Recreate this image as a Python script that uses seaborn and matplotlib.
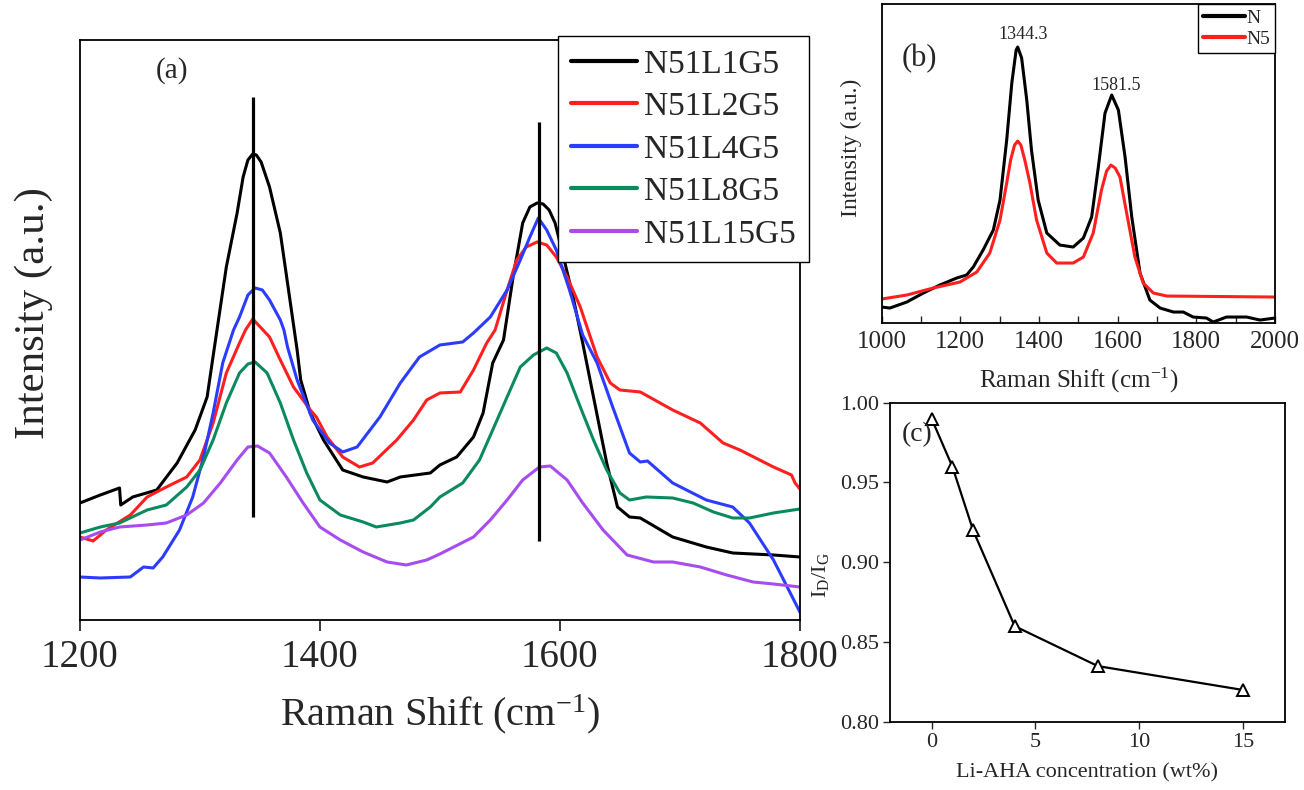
import numpy as np
import pandas as pd
import matplotlib
matplotlib.use("Agg")
import matplotlib.pyplot as plt
import seaborn as sns

sns.set_style("ticks")
plt.rcParams['font.family'] = ['Liberation Serif', 'DejaVu Serif']
plt.rcParams['mathtext.fontset'] = 'custom'
plt.rcParams['mathtext.rm'] = 'Liberation Serif'
plt.rcParams['mathtext.it'] = 'Liberation Serif:italic'

# ---- panel (a): Raman spectra (arbitrary intensity units) ----
labels_a = ["N51L1G5", "N51L2G5", "N51L4G5", "N51L8G5", "N51L15G5"]
colors_a = ["#000000", "#ff1f1f", "#2b3cff", "#0b8a5e", "#a64cf0"]

x_l1 = [1200, 1217, 1233, 1234, 1244, 1264, 1281, 1296, 1306, 1312, 1322, 1331, 1336, 1340, 1344,
        1347, 1351, 1358, 1367, 1373, 1381, 1384, 1392, 1403, 1419, 1436, 1456, 1467, 1492, 1500,
        1514, 1528, 1536, 1544, 1553, 1561, 1569, 1575, 1581, 1586, 1591, 1596, 1603, 1611, 1619,
        1628, 1639, 1648, 1658, 1667, 1694, 1722, 1744, 1778, 1800]
y_l1 = [117, 125, 132, 115, 123, 130, 157, 190, 223, 272, 353, 407, 443, 460, 466,
        465, 458, 433, 387, 337, 270, 240, 207, 180, 150, 143, 138, 143, 147, 155,
        163, 183, 207, 257, 280, 343, 397, 413, 417, 416, 410, 397, 363, 323, 277,
        223, 157, 113, 103, 102, 83, 73, 67, 65, 63]

x_l2 = [1200, 1211, 1222, 1242, 1256, 1272, 1289, 1300, 1311, 1322, 1333, 1338, 1344, 1351, 1358,
        1367, 1378, 1392, 1397, 1406, 1419, 1433, 1444, 1464, 1478, 1489, 1500, 1517, 1528, 1539,
        1546, 1556, 1564, 1572, 1581, 1589, 1597, 1606, 1617, 1622, 1631, 1642, 1650, 1667, 1694,
        1717, 1736, 1750, 1778, 1793, 1796, 1800]
y_l2 = [83, 79, 90, 105, 123, 133, 143, 160, 197, 247, 277, 290, 301, 292, 283,
        260, 233, 210, 203, 183, 163, 153, 157, 180, 200, 220, 227, 228, 250, 277,
        290, 330, 360, 373, 378, 375, 363, 343, 313, 295, 263, 237, 230, 228, 210,
        197, 177, 170, 153, 145, 137, 131]

x_l4 = [1200, 1217, 1242, 1253, 1261, 1269, 1283, 1294, 1303, 1311, 1319, 1328, 1333, 1340, 1346,
        1352, 1358, 1367, 1370, 1373, 1381, 1394, 1408, 1419, 1431, 1450, 1467, 1483, 1500, 1519,
        1528, 1542, 1556, 1567, 1575, 1582, 1589, 1597, 1608, 1619, 1631, 1644, 1658, 1667, 1673,
        1694, 1722, 1744, 1758, 1778, 1792, 1800]
y_l4 = [43, 42, 43, 53, 52, 63, 90, 123, 163, 207, 257, 290, 303, 325, 332,
        330, 320, 300, 290, 273, 240, 200, 177, 168, 173, 203, 237, 263, 275, 278,
        287, 303, 330, 360, 383, 402, 390, 370, 330, 285, 257, 213, 167, 158, 159,
        137, 120, 113, 97, 60, 27, 8]

x_l8 = [1200, 1217, 1233, 1256, 1272, 1289, 1300, 1311, 1322, 1333, 1340, 1346, 1356, 1367, 1378,
        1389, 1400, 1417, 1436, 1447, 1467, 1478, 1492, 1500, 1519, 1533, 1544, 1556, 1567, 1578,
        1589, 1597, 1606, 1617, 1628, 1639, 1650, 1658, 1672, 1694, 1711, 1728, 1744, 1758, 1778,
        1800]
y_l8 = [87, 93, 97, 110, 115, 133, 150, 180, 217, 247, 256, 258, 247, 217, 180,
        147, 120, 105, 98, 93, 97, 100, 113, 123, 137, 160, 190, 223, 253, 265,
        272, 267, 247, 213, 180, 150, 127, 120, 123, 122, 117, 108, 102, 102, 107,
        111]

x_l15 = [1200, 1217, 1233, 1256, 1272, 1289, 1303, 1317, 1331, 1340, 1348, 1358, 1372, 1386, 1400,
         1417, 1436, 1456, 1472, 1489, 1500, 1528, 1542, 1556, 1569, 1583, 1592, 1606, 1619, 1636,
         1656, 1678, 1694, 1717, 1739, 1761, 1778, 1800]
y_l15 = [80, 88, 93, 95, 97, 105, 117, 137, 160, 173, 174, 167, 143, 117, 93,
         80, 68, 58, 55, 60, 66, 83, 100, 120, 140, 153, 154, 140, 117, 90,
         65, 58, 58, 53, 45, 38, 36, 33]

peak_marks = [1344, 1583]
peak_lo = [103, 79]
peak_hi = [523, 498]

# ---- panel (b): N vs N5 ----
x_n = [1000, 1021, 1064, 1106, 1148, 1191, 1216, 1233, 1258, 1284, 1301, 1318, 1331, 1342, 1346,
       1356, 1369, 1381, 1398, 1420, 1453, 1487, 1513, 1534, 1551, 1568, 1585, 1602, 1619, 1636,
       1657, 1682, 1708, 1742, 1767, 1792, 1826, 1843, 1877, 1928, 1962, 2000]
y_n = [16, 15, 21, 30, 38, 45, 48, 56, 73, 93, 123, 183, 240, 273, 276,
       265, 223, 173, 123, 90, 78, 76, 85, 106, 156, 210, 228, 213, 166, 106,
       50, 23, 15, 11, 11, 6, 5, 1, 6, 6, 3, 5]
x_n5 = [1000, 1064, 1131, 1199, 1242, 1275, 1301, 1318, 1328, 1338, 1346, 1354, 1364, 1377, 1394,
        1420, 1445, 1487, 1513, 1538, 1559, 1572, 1583, 1594, 1606, 1623, 1644, 1665, 1691, 1725, 2000]
y_n5 = [24, 28, 35, 41, 51, 70, 103, 140, 163, 178, 182, 178, 163, 140, 103,
        70, 60, 60, 66, 90, 133, 152, 158, 155, 146, 110, 66, 40, 30, 27, 26]
peak_text = ["1344.3", "1581.5"]
peak_text_x = [1359, 1596]
peak_text_y = [289, 238]

# ---- panel (c): ID/IG ratio ----
conc = [0, 1, 2, 4, 8, 15]
ratio = [0.99, 0.96, 0.92, 0.86, 0.835, 0.82]

fig = plt.figure(figsize=(13.04, 7.9), dpi=100)
ax_a = fig.add_axes([0.0613, 0.2152, 0.5521, 0.7342])
ax_b = fig.add_axes([0.6761, 0.5911, 0.3016, 0.4038])
ax_c = fig.add_axes([0.6825, 0.0861, 0.3029, 0.4042])

# (a)
series_a = [(x_l1, y_l1), (x_l2, y_l2), (x_l4, y_l4), (x_l8, y_l8), (x_l15, y_l15)]
for (xs, ys), lab, col in zip(series_a, labels_a, colors_a):
    sns.lineplot(x=xs, y=ys, ax=ax_a, color=col, lw=2.2, label=lab, sort=False)
ax_a.vlines(peak_marks, peak_lo, peak_hi, colors="black", lw=2.3)
ax_a.set_xlim(1200, 1800)
ax_a.set_ylim(0, 580)
ax_a.set_xticks([1200, 1400, 1600, 1800])
ax_a.set_yticks([])
ax_a.tick_params(axis='x', direction='out', length=8, width=1.3, labelsize=28, pad=6)
ax_a.set_xlabel(r"Raman Shift (cm$^{\mathregular{-1}}$)", fontsize=29)
ax_a.xaxis.set_label_coords(0.5, -0.125)
ax_a.set_ylabel("Intensity (a.u.)", fontsize=31)
ax_a.yaxis.set_label_coords(-0.038, 0.53)
ax_a.text(0.128, 0.948, "(a)", transform=ax_a.transAxes, fontsize=21, ha="center", va="center")
leg = ax_a.legend(loc="upper right", bbox_to_anchor=(1.012, 1.006), borderaxespad=0, fontsize=24,
                  fancybox=False, framealpha=1, edgecolor="black", handlelength=2.0,
                  handletextpad=0.2, labelspacing=0.36, borderpad=0.38)
leg.get_frame().set_linewidth(1.0)
for h in leg.get_lines():
    h.set_linewidth(3)

# (b)
sns.lineplot(x=x_n, y=y_n, ax=ax_b, color="black", lw=2.2, label="N", sort=False)
sns.lineplot(x=x_n5, y=y_n5, ax=ax_b, color="#ff1f1f", lw=2.2, label="N5", sort=False)
for t, tx, ty in zip(peak_text, peak_text_x, peak_text_y):
    ax_b.text(tx, ty, t, fontsize=13, ha="center", va="center")
ax_b.set_xlim(1000, 2000)
ax_b.set_ylim(0, 319)
ax_b.set_xticks([1000, 1200, 1400, 1600, 1800, 2000])
ax_b.set_xticks(np.arange(1100, 2000, 200), minor=True)
ax_b.set_yticks([])
ax_b.tick_params(axis='x', which='both', direction='in', length=5, width=1.0, labelsize=18, pad=6)
ax_b.set_xlabel(r"Raman Shift (cm$^{\mathregular{-1}}$)", fontsize=18)
ax_b.xaxis.set_label_coords(0.5, -0.135)
ax_b.set_ylabel("Intensity (a.u.)", fontsize=17)
ax_b.yaxis.set_label_coords(-0.05, 0.55)
ax_b.text(0.095, 0.83, "(b)", transform=ax_b.transAxes, fontsize=22, ha="center", va="center")
leg_b = ax_b.legend(loc="upper right", bbox_to_anchor=(1.0, 1.0), borderaxespad=0, fontsize=14,
                    fancybox=False, framealpha=1, edgecolor="black", handlelength=2.2,
                    handletextpad=0.05, labelspacing=0.2, borderpad=0.25)
leg_b.get_frame().set_linewidth(1.0)
for h in leg_b.get_lines():
    h.set_linewidth(3)

# (c)
sns.lineplot(x=conc, y=ratio, ax=ax_c, color="black", lw=1.6, marker="^", markersize=9,
             markerfacecolor="white", markeredgecolor="black", markeredgewidth=1.4)
ax_c.set_xlim(-2, 17)
ax_c.set_ylim(0.80, 1.00)
ax_c.set_xticks([0, 5, 10, 15])
ax_c.set_yticks([0.80, 0.85, 0.90, 0.95, 1.00])
ax_c.set_yticklabels(["0.80", "0.85", "0.90", "0.95", "1.00"])
ax_c.tick_params(axis='both', direction='out', length=5, width=1.0, labelsize=16, pad=3)
ax_c.set_xlabel("Li-AHA concentration (wt%)", fontsize=16)
ax_c.xaxis.set_label_coords(0.5, -0.13)
ax_c.set_ylabel(r"$\mathregular{I_D/I_G}$", fontsize=16)
ax_c.yaxis.set_label_coords(-0.15, 0.46)
ax_c.text(0.068, 0.9, "(c)", transform=ax_c.transAxes, fontsize=20, ha="center", va="center")

for ax in (ax_a, ax_b, ax_c):
    for s in ax.spines.values():
        s.set_visible(True)
        s.set_color("black")
        s.set_linewidth(1.3)

fig.savefig("out.png", dpi=100, facecolor="white")
